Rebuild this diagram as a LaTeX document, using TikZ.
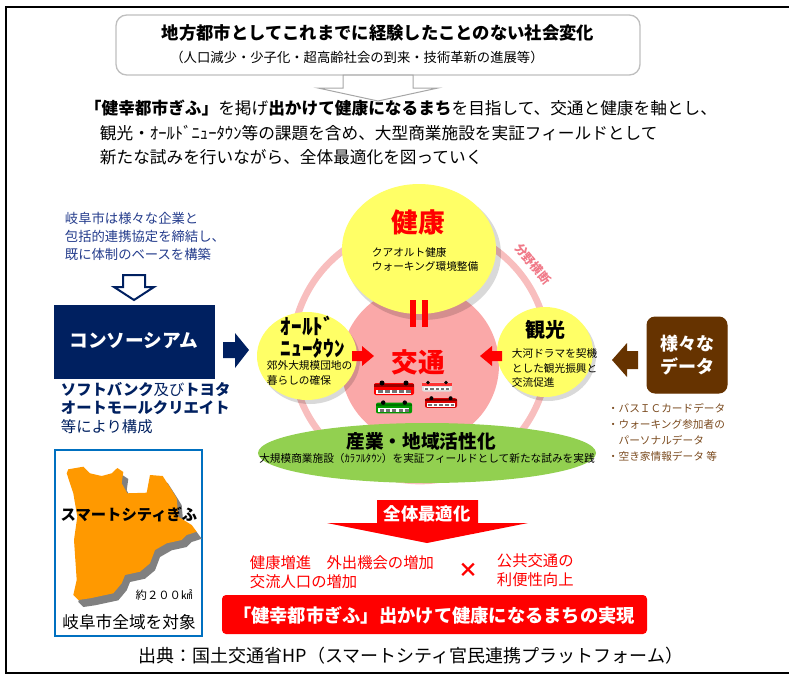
\documentclass[tikz,border=0pt]{standalone}
\usepackage{fontspec}
\setmainfont{Noto Sans CJK JP}
\definecolor{mcNavy}{RGB}{0,32,96}
\definecolor{mcBlue}{RGB}{36,60,140}
\definecolor{mcFrameBlue}{RGB}{0,112,192}
\definecolor{mcOrange}{RGB}{255,153,0}
\definecolor{mcYellow}{RGB}{255,255,102}
\definecolor{mcPink}{RGB}{250,168,168}
\definecolor{mcRing}{RGB}{248,190,190}
\definecolor{mcRingText}{RGB}{240,120,135}
\definecolor{mcGreen}{RGB}{146,208,80}
\definecolor{mcBrown}{RGB}{102,51,0}
\definecolor{mcBrownText}{RGB}{122,74,30}
\definecolor{mcRed}{RGB}{255,0,0}
\tikzset{
	bus color/.store in=\mcBusColor,
	bus color=red,
	bus trim/.store in=\mcBusTrim,
	bus trim=red!70!black}
\tikzset{
	bus/.pic={
		\fill[\mcBusColor, rounded corners=1.5] (-20,-6) rectangle (20,6);
		\fill[\mcBusTrim] (-20,2) rectangle (20,5);
		\fill[white] (-18,-4.5) rectangle (17,-0.5);
		\foreach \wx in {-16,-9,-2,5,12} \fill[black!55] (\wx,-4) rectangle ++(4.5,3);
		\fill[black] (-12,6) circle (2.5) (12,6) circle (2.5);
	}}
\tikzset{every picture/.style={line width=0.75pt}}

\begin{document}
\begin{tikzpicture}[x=0.75pt,y=0.75pt,yscale=-1,xscale=1]
	\useasboundingbox (0,0) rectangle (789,679);

	%Shape: Rectangle [outer frame]
	\draw[line width=1.2pt] (6,7) rectangle (800,673);

	%Shape: Rectangle [heading box]
	\draw[draw=black!25, line width=1pt, rounded corners=8] (116,15) rectangle (640,75);
	% Text Node
	\node[font=\fontsize{13}{15}\selectfont\bfseries] (title) at (378,33) {地方都市としてこれまでに経験したことのない社会変化};
	% Text Node
	\node[font=\fontsize{10}{12}\selectfont] (subtitle) at (357,57) {（人口減少・少子化・超高齢社会の到来・技術革新の進展等）};
	%Shape: Down arrow
	\draw[draw=black!35, fill=white] (343,75) -- (413,75) -- (413,88) -- (438,88) -- (378,101) -- (318,88) -- (343,88) -- cycle;

	% Text Node
	\node[anchor=west, font=\fontsize{12.5}{15}\selectfont] (lead1) at (80,108) {{\bfseries 「健幸都市ぎふ」}を掲げ{\bfseries 出かけて健康になるまち}を目指して、交通と健康を軸とし、};
	% Text Node
	\node[anchor=west, font=\fontsize{12.5}{15}\selectfont] (lead2) at (95,133) {観光・ｵｰﾙﾄﾞﾆｭｰﾀｳﾝ等の課題を含め、大型商業施設を実証フィールドとして};
	% Text Node
	\node[anchor=west, font=\fontsize{12.5}{15}\selectfont] (lead3) at (95,157) {新たな試みを行いながら、全体最適化を図っていく};

	% Text Node
	\node[anchor=west, align=left, text=mcBlue, font=\fontsize{10}{13.5}\selectfont] (pact) at (60,236) {岐阜市は様々な企業と\\包括的連携協定を締結し、\\既に体制のベースを構築};
	%Shape: Down arrow
	\draw[draw=mcNavy, line width=1.5pt, fill=white] (123,275) -- (145,275) -- (145,287) -- (154,287) -- (134,300) -- (114,287) -- (123,287) -- cycle;

	%Shape: Rectangle
	\draw[draw=mcNavy, fill=mcNavy] (54,305) rectangle (214,378);
	% Text Node
	\node[text=white, font=\fontsize{14}{16}\selectfont\bfseries] (consortium) at (134,341) {コンソーシアム};
	%Shape: Right arrow
	\fill[mcNavy] (223,342) -- (235,342) -- (235,333) -- (249,350) -- (235,368) -- (235,358) -- (223,358) -- cycle;
	% Text Node
	\node[anchor=west, align=left, text=mcNavy, font=\fontsize{11.5}{13.9}\selectfont] (members) at (56,408) {{\bfseries ソフトバンク}及び{\bfseries トヨタ}\\{\bfseries オートモールクリエイト}\\等により構成};

	%Shape: Rectangle [map frame]
	\draw[draw=mcFrameBlue, line width=2pt, fill=white] (55,450) rectangle (202,636);
	%Shape: Polygon [map shadow]
	\begin{scope}[shift={(5,7)}]
	\fill[black!50] (68.3,469.3) -- (83.3,466.7) -- (90,473.3) -- (101.7,476) -- (111.7,473.3) -- (117.3,468) -- (123.3,472) -- (121.7,483.3) -- (127.3,493.3) -- (146.7,492.7) -- (150,475) -- (162.7,476) -- (171.7,490) -- (176.7,498.3) -- (178.3,516.7) -- (191.7,525) -- (196.7,531.7) -- (186.7,535) -- (181.7,540) -- (166.7,543.3) -- (155,550) -- (150,563.3) -- (140,571.7) -- (125,575) -- (121.7,583.3) -- (113.3,593.3) -- (90,598.3) -- (78.3,600) -- (73.3,595) -- (76.7,580) -- (74,540) -- (77.3,516.7) -- (73.3,493.3) -- (66.7,473.3) -- cycle;
	\end{scope}
	%Shape: Polygon [map]
	\fill[mcOrange] (68.3,469.3) -- (83.3,466.7) -- (90,473.3) -- (101.7,476) -- (111.7,473.3) -- (117.3,468) -- (123.3,472) -- (121.7,483.3) -- (127.3,493.3) -- (146.7,492.7) -- (150,475) -- (162.7,476) -- (171.7,490) -- (176.7,498.3) -- (178.3,516.7) -- (191.7,525) -- (196.7,531.7) -- (186.7,535) -- (181.7,540) -- (166.7,543.3) -- (155,550) -- (150,563.3) -- (140,571.7) -- (125,575) -- (121.7,583.3) -- (113.3,593.3) -- (90,598.3) -- (78.3,600) -- (73.3,595) -- (76.7,580) -- (74,540) -- (77.3,516.7) -- (73.3,493.3) -- (66.7,473.3) -- cycle;
	% Text Node
	\node[font=\fontsize{11.5}{13}\selectfont\bfseries] (smartcity) at (129,515) {スマートシティぎふ};
	% Text Node
	\node[font=\fontsize{8.5}{10}\selectfont] (area) at (164,595) {約２００㎢};
	% Text Node
	\node[font=\fontsize{12.5}{14}\selectfont] (target) at (129,622) {岐阜市全域を対象};

	%Shape: Circle [ring]
	\draw[draw=mcRing, line width=5pt] (420,353) circle [radius=128];
	% Text Node
	\node[rotate=-50, text=mcRingText, font=\fontsize{9}{10}\selectfont\bfseries] (cross) at (533,264) {分野横断};

	%Shape: Circle [transport]
	\fill[mcPink] (420,365) circle [radius=79];

	%Shape: Ellipse [health]
	\fill[black, opacity=0.15] (423,254) ellipse [x radius=78, y radius=66];
	\fill[mcYellow] (419,249) ellipse [x radius=77, y radius=65];
	%Shape: Ellipse [old new town]
	\fill[black, opacity=0.15] (310,360) ellipse [x radius=50, y radius=44];
	\fill[mcYellow] (307,356) ellipse [x radius=50, y radius=44];
	%Shape: Ellipse [tourism]
	\fill[black, opacity=0.15] (548,356) ellipse [x radius=48, y radius=45];
	\fill[mcYellow] (545,352) ellipse [x radius=48, y radius=45];
	%Shape: Ellipse [industry]
	\fill[mcGreen] (427,453) ellipse [x radius=169, y radius=30];

	%Shape: Equal bars
	\fill[mcRed] (410,300) rectangle (416,327);
	\fill[mcRed] (422,300) rectangle (428,327);
	%Shape: Right arrow
	\fill[mcRed] (352,351) -- (362,351) -- (362,346) -- (374,356) -- (362,366) -- (362,361) -- (352,361) -- cycle;
	%Shape: Left arrow
	\fill[mcRed] (502,351) -- (492,351) -- (492,346) -- (480,356) -- (492,366) -- (492,361) -- (502,361) -- cycle;

	% Text Node
	\node[text=mcRed, font=\fontsize{20}{22}\selectfont\bfseries] (health) at (418,222) {健康};
	% Text Node
	\node[anchor=west, align=left, font=\fontsize{8}{10.5}\selectfont] (healthsub) at (367,259) {クアオルト健康\\ウォーキング環境整備};
	% Text Node
	\node[text=mcRed, font=\fontsize{20}{22}\selectfont\bfseries] (transport) at (418,362) {交通};
	% Text Node
	\node[anchor=west, align=left, font=\fontsize{16}{16.5}\selectfont\bfseries] (oldtown) at (276,337) {ｵｰﾙﾄﾞ\\ﾆｭｰﾀｳﾝ};
	% Text Node
	\node[anchor=west, align=left, font=\fontsize{8}{11.25}\selectfont] (oldtownsub) at (262,373) {郊外大規模団地の\\暮らしの確保};
	% Text Node
	\node[font=\fontsize{15}{17}\selectfont\bfseries] (tourism) at (545,330) {観光};
	% Text Node
	\node[anchor=west, align=left, font=\fontsize{8}{10.9}\selectfont] (tourismsub) at (507,368) {大河ドラマを契機\\とした観光振興と\\交流促進};
	% Text Node
	\node[font=\fontsize{14}{16}\selectfont\bfseries] (industry) at (421,441) {産業・地域活性化};
	% Text Node
	\node[font=\fontsize{8}{10}\selectfont] (industrysub) at (427,458) {大規模商業施設（ｶﾗﾌﾙﾀｳﾝ）を実証フィールドとして新たな試みを実践};

	% Buses
	\pic[bus color=red, bus trim=red!60!black] at (394,389) {bus};
	\pic[bus color=black!12, bus trim=red!80, scale=0.75] at (437,387) {bus};
	\pic[bus color=green!60!black, bus trim=green!45!black, scale=0.9] at (394,408) {bus};
	\pic[bus color=red!85!black, bus trim=red!50!black, scale=0.8] at (441,403) {bus};

	%Shape: Rounded Rectangle [data]
	\draw[draw=mcBrown, fill=mcBrown, rounded corners=6] (647,317) rectangle (727,393);
	% Text Node
	\node[align=center, text=white, font=\fontsize{13.5}{17}\selectfont\bfseries] (data) at (687,355) {様々な\\データ};
	%Shape: Left arrow
	\fill[mcBrown] (638,351) -- (627,351) -- (627,343) -- (612,360) -- (627,377) -- (627,369) -- (638,369) -- cycle;
	% Text Node
	\node[anchor=west, align=left, text=mcBrownText, font=\fontsize{8}{12}\selectfont] (datalist) at (603,432) {・バスＩＣカードデータ\\・ウォーキング参加者の\\　パーソナルデータ\\・空き家情報データ 等};

	%Shape: Down arrow [optimisation]
	\fill[mcRed] (377,500) -- (478,500) -- (478,523) -- (528,523) -- (427,543) -- (327,523) -- (377,523) -- cycle;
	% Text Node
	\node[text=white, font=\fontsize{13}{15}\selectfont\bfseries] (optimise) at (427,514) {全体最適化};

	% Text Node
	\node[anchor=west, align=left, text=mcRed, font=\fontsize{11.5}{14.25}\selectfont] (effect) at (245,572) {健康増進　外出機会の増加\\交流人口の増加};
	% Text Node
	\node[text=mcRed, font=\fontsize{15}{16}\selectfont\bfseries] (times) at (468,570) {×};
	% Text Node
	\node[anchor=west, align=left, text=mcRed, font=\fontsize{11.5}{14.25}\selectfont] (convenience) at (492,570) {公共交通の\\利便性向上};

	%Shape: Rectangle [goal]
	\fill[mcRed, rounded corners=3] (222,595) rectangle (647,634);
	% Text Node
	\node[text=white, font=\fontsize{13.7}{15}\selectfont\bfseries] (goal) at (434,615) {「健幸都市ぎふ」出かけて健康になるまちの実現};

	% Text Node
	\node[font=\fontsize{13.5}{15}\selectfont] (source) at (411,656) {出典：国土交通省HP（スマートシティ官民連携プラットフォーム）};

\end{tikzpicture}
\end{document}
